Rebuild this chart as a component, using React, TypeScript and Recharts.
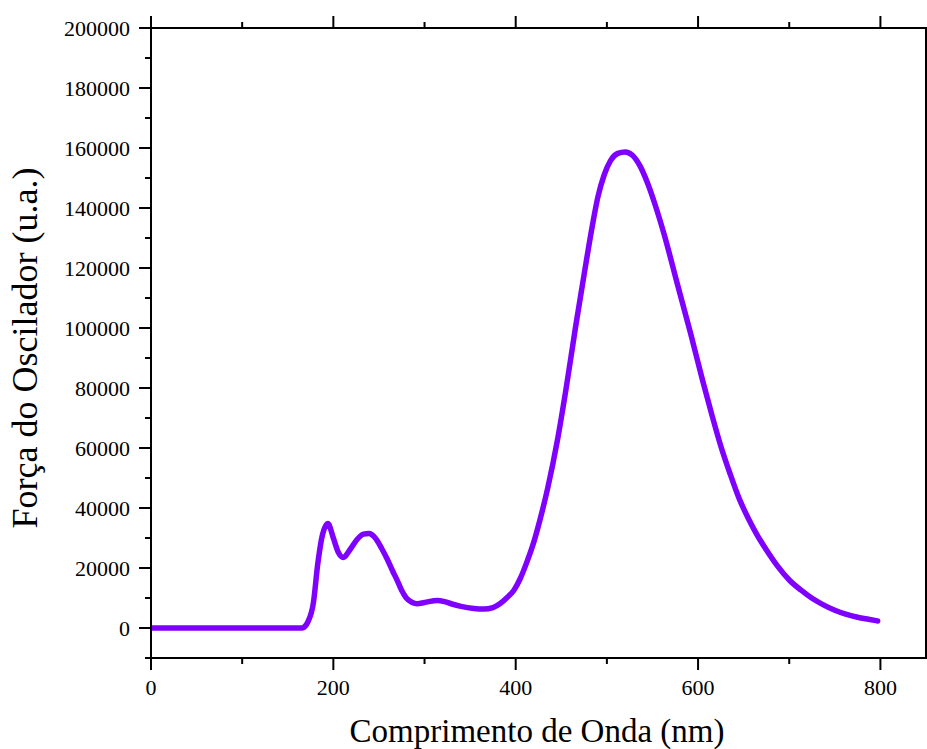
import React from 'react';
import { LineChart, Line, XAxis, YAxis, Label } from 'recharts';

// wavelength (nm) and oscillator strength
const wavelength = [
  0, 50, 100, 150, 165, 168, 172, 178, 183, 188, 194, 200, 205, 211, 218, 226, 233, 239, 246, 253,
  259, 265, 270, 275, 280, 286, 292, 300, 314, 322, 330, 340, 354, 365, 375, 383, 390, 398, 405, 412,
  420, 427, 435, 446, 455, 466, 475, 484, 490, 497, 504, 512, 520, 528, 536, 545, 553, 563, 577, 592,
  605, 615, 625, 635, 645, 655, 665, 675, 687, 700, 713, 725, 737, 750, 762, 775, 787, 797,
];
const strength = [
  0, 0, 0, 0, 0, 300, 2000, 8200, 21600, 31000, 34800, 30000, 25500, 23500, 26000, 29500, 31300, 31500, 30000, 26500,
  23000, 19000, 15900, 12500, 10000, 8600, 8100, 8500, 9200, 8800, 8000, 7200, 6500, 6300, 6800, 8140, 10000, 12600, 16500, 21800,
  28800, 36500, 46500, 63000, 79300, 101000, 117800, 134000, 143500, 151000, 155800, 158200, 158700, 157600, 154200, 148000, 141000, 131000, 115000, 98000,
  82500, 71200, 60600, 51500, 43200, 36600, 30900, 26000, 20700, 16000, 12600, 9900, 7800, 5900, 4600, 3600, 2900, 2340,
];

const xTicks = [0, 100, 200, 300, 400, 500, 600, 700, 800];
const yTicks = [
  -10000, 0, 10000, 20000, 30000, 40000, 50000, 60000, 70000, 80000, 90000, 100000,
  110000, 120000, 130000, 140000, 150000, 160000, 170000, 180000, 190000, 200000,
];

const data = wavelength.map((w, i) => ({ w, v: strength[i] }));

const FONT = '"Liberation Serif", "Times New Roman", serif';
const MAJOR = 12;
const MINOR = 6;

const isMajorX = (v: number) => v % 200 === 0;
const isMajorY = (v: number) => v % 20000 === 0 && v >= 0;

const BottomTick = ({ x, y, payload }: any) => {
  const major = isMajorX(payload.value);
  return (
    <g>
      <line x1={x} y1={y} x2={x} y2={y + (major ? MAJOR : MINOR)} stroke="#000" strokeWidth={2} />
      {major && (
        <text x={x} y={y + 37} textAnchor="middle" fontSize={22} fontFamily={FONT} fill="#000">
          {payload.value}
        </text>
      )}
    </g>
  );
};

const TopTick = ({ x, y, payload }: any) => {
  const major = isMajorX(payload.value);
  return <line x1={x} y1={y} x2={x} y2={y - (major ? MAJOR : MINOR)} stroke="#000" strokeWidth={2} />;
};

const LeftTick = ({ x, y, payload }: any) => {
  const major = isMajorY(payload.value);
  return (
    <g>
      <line x1={x} y1={y} x2={x - (major ? MAJOR : MINOR)} y2={y} stroke="#000" strokeWidth={2} />
      {major && (
        <text x={x - 21} y={y + 7.5} textAnchor="end" fontSize={22} fontFamily={FONT} fill="#000">
          {payload.value}
        </text>
      )}
    </g>
  );
};

const RightTick = ({ x, y, payload }: any) => {
  const major = isMajorY(payload.value);
  return <line x1={x} y1={y} x2={x + (major ? MAJOR : MINOR)} y2={y} stroke="#000" strokeWidth={2} />;
};

const yTitle = () => (
  <text x={37} y={348} transform="rotate(-90, 37, 348)" textAnchor="middle" fontSize={36} fontFamily={FONT} fill="#000">
    Força do Oscilador (u.a.)
  </text>
);

const xTitle = () => (
  <text x={537} y={742} textAnchor="middle" fontSize={33} fontFamily={FONT} fill="#000">
    Comprimento de Onda (nm)
  </text>
);

export default function App() {
  return (
    <div style={{ position: 'absolute', left: 0, top: 0, width: 927, height: 749, background: '#fff' }}>
      <LineChart width={927} height={749} data={data} margin={{ top: 27, right: 0, bottom: 0, left: 0 }}>
        <XAxis
          xAxisId="bottom"
          dataKey="w"
          type="number"
          domain={[0, 850]}
          ticks={xTicks}
          allowDataOverflow
          height={91}
          axisLine={{ stroke: '#000', strokeWidth: 2 }}
          tickLine={false}
          tickSize={0}
          tickMargin={0}
          tick={<BottomTick />}
          interval={0}
        >
          <Label content={xTitle} />
        </XAxis>
        <XAxis
          xAxisId="top"
          orientation="top"
          dataKey="w"
          type="number"
          domain={[0, 850]}
          ticks={xTicks}
          allowDataOverflow
          height={1}
          axisLine={{ stroke: '#000', strokeWidth: 2 }}
          tickLine={false}
          tickSize={0}
          tickMargin={0}
          tick={<TopTick />}
          interval={0}
        />
        <YAxis
          yAxisId="left"
          type="number"
          domain={[-10000, 200000]}
          ticks={yTicks}
          allowDataOverflow
          width={151}
          axisLine={{ stroke: '#000', strokeWidth: 2 }}
          tickLine={false}
          tickSize={0}
          tickMargin={0}
          tick={<LeftTick />}
          interval={0}
        >
          <Label content={yTitle} />
        </YAxis>
        <YAxis
          yAxisId="right"
          orientation="right"
          type="number"
          domain={[-10000, 200000]}
          ticks={yTicks}
          allowDataOverflow
          width={1}
          axisLine={{ stroke: '#000', strokeWidth: 2 }}
          tickLine={false}
          tickSize={0}
          tickMargin={0}
          tick={<RightTick />}
          interval={0}
        />
        <Line
          xAxisId="bottom"
          yAxisId="left"
          dataKey="v"
          type="monotone"
          stroke="#7F00FF"
          strokeWidth={5.5}
          strokeLinecap="round"
          dot={false}
          isAnimationActive={false}
        />
      </LineChart>
    </div>
  );
}
